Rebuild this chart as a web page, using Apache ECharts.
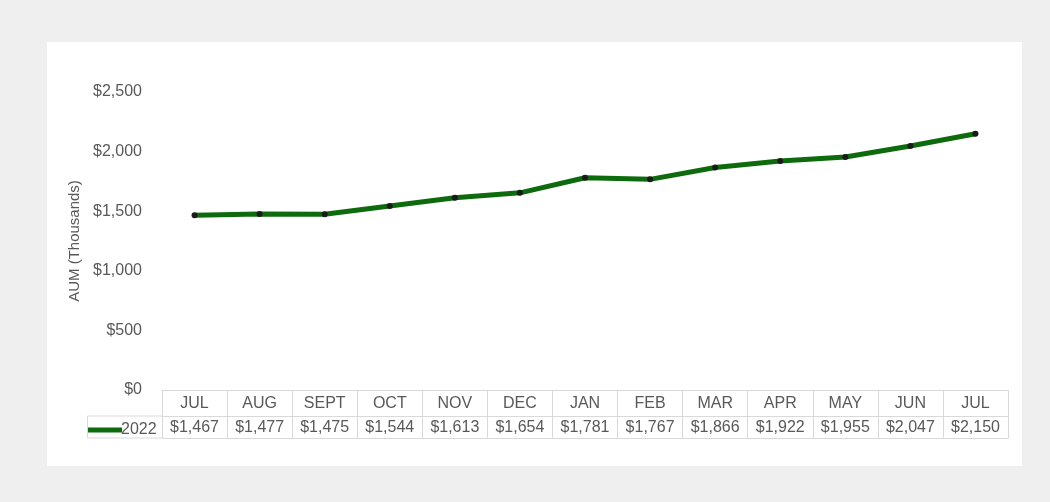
<!DOCTYPE html>
<html><head><meta charset="utf-8">
<script src="https://cdn.jsdelivr.net/npm/echarts@6/dist/echarts.min.js"></script>
<style>html,body{margin:0;padding:0;background:#efefef;}#c{width:1050px;height:502px;}</style>
</head><body><div id="c"></div>
<script>
const categories = ['JUL','AUG','SEPT','OCT','NOV','DEC','JAN','FEB','MAR','APR','MAY','JUN','JUL'];
const values2022 = [1467,1477,1475,1544,1613,1654,1781,1767,1866,1922,1955,2047,2150];
const seriesName = '2022';
const yTicks = [0,500,1000,1500,2000,2500];

const fmt = v => '$' + Number(v).toLocaleString('en-US');
const txt = '#595959', border = '#d9d9d9', font = 'Liberation Sans, Arial, sans-serif';
const idx = categories.map((c,i)=>String(i));

const chart = echarts.init(document.getElementById('c'));
chart.setOption({
  animation:false,
  textStyle:{fontFamily:font},
  graphic:[
    {type:'rect', z:-10, shape:{x:47,y:42,width:975,height:424}, style:{fill:'#ffffff'}},
    {type:'polyline', z:5, shape:{points:[[162,416],[87.5,416],[87.5,438],[162,438]]}, style:{stroke:border,lineWidth:1,fill:null}}
  ],
  legend:{left:83, top:417, itemWidth:34, itemHeight:5, itemGap:2, icon:'rect', data:[seriesName],
    itemStyle:{color:'#0d6b0d'},
    textStyle:{color:txt,fontSize:16,fontFamily:font,padding:[0,0,0,-6]}},
  grid:{left:162, right:42, top:92, bottom:112},
  xAxis:[
    {type:'category', data:idx, position:'bottom', boundaryGap:true,
     axisLine:{show:true,lineStyle:{color:border}},
     axisTick:{show:true,length:48,lineStyle:{color:border}},
     axisLabel:{color:txt,fontSize:16,margin:6,formatter:(v,i)=>categories[+v]}},
    {type:'category', data:idx, position:'bottom', offset:26, boundaryGap:true,
     axisLine:{show:true,lineStyle:{color:border}}, axisTick:{show:false},
     axisLabel:{color:txt,fontSize:16,margin:4,formatter:(v)=>fmt(values2022[+v])}},
    {type:'category', data:idx, position:'bottom', offset:48, boundaryGap:true,
     axisLine:{show:true,lineStyle:{color:border}}, axisTick:{show:false}, axisLabel:{show:false}}
  ],
  yAxis:{type:'value', min:yTicks[0], max:yTicks[yTicks.length-1], interval:500,
    name:'AUM (Thousands)', nameLocation:'middle', nameGap:77,
    nameTextStyle:{color:txt,fontSize:15,fontFamily:font},
    axisLine:{show:false}, axisTick:{show:false}, splitLine:{show:false},
    axisLabel:{color:txt,fontSize:16,margin:20,formatter:fmt}},
  series:[{name:seriesName, type:'line', xAxisIndex:0, data:values2022,
    symbol:'circle', symbolSize:6, showSymbol:true,
    itemStyle:{color:'#1a1a1a'},
    lineStyle:{color:'#0d6b0d',width:5}}]
});
</script></body></html>
